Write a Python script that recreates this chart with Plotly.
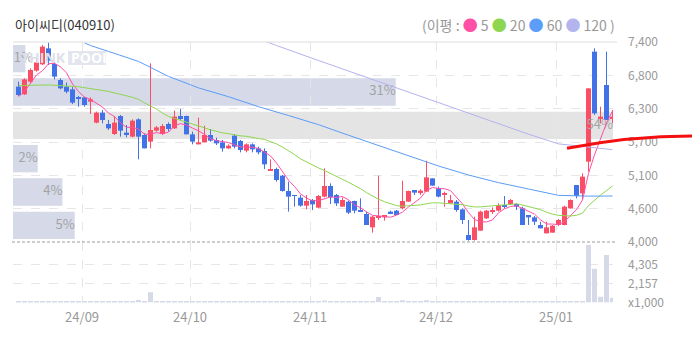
import plotly.graph_objects as go
import pandas as pd

# ---------------- data ----------------
TITLE = "아이씨디(040910)"
HOLIDAYS = ["2024-09-16", "2024-09-17", "2024-09-18", "2024-10-01", "2024-10-03",
            "2024-10-09", "2024-12-25", "2024-12-31", "2025-01-01"]
trade_days = [d for d in pd.bdate_range("2024-08-16", "2025-01-15")
              if d.strftime("%Y-%m-%d") not in HOLIDAYS]

OPEN = [6641, 6510, 6726, 6913, 7020, 7292, 7026, 6754, 6641, 6595,
        6459, 6459, 6386, 6029, 6199, 6006, 5836, 6142, 5859, 5791,
        6085, 5819, 5706, 5893, 5836, 6006, 5932, 6142, 6142, 5830,
        5660, 5694, 5819, 5734, 5694, 5592, 5808, 5717, 5553, 5660,
        5592, 5547, 5213, 5241, 5128, 4867, 4799, 4754, 4618, 4714,
        4584, 4771, 4952, 4799, 4601, 4686, 4697, 4533, 4476, 4249,
        4419, 4419, 4516, 4533, 4572, 4686, 4884, 4844, 4856, 5082,
        4912, 4799, 4657, 4686, 4555, 4119, 4034, 4193, 4402, 4516,
        4533, 4629, 4646, 4646, 4572, 4459, 4419, 4289, 4147, 4159,
        4289, 4289, 4572, 4969, 4827, 5366, 7236, 6102, 6669, 6102]
HIGH = [6726, 6782, 6952, 7122, 7349, 7389, 7066, 6782, 6709, 6641,
        6482, 6470, 6459, 6216, 6244, 6074, 6142, 6159, 5989, 6085,
        6102, 5847, 7037, 5972, 6006, 6034, 6233, 6261, 6148, 5876,
        6114, 5978, 5921, 5774, 5734, 5660, 5830, 5734, 5677, 5677,
        5621, 5592, 5405, 5264, 5139, 5026, 4799, 4799, 4799, 4731,
        4799, 5252, 4997, 4816, 4759, 4703, 4703, 4742, 4516, 4442,
        5128, 4459, 4533, 4544, 5043, 4873, 4884, 4895, 5383, 5082,
        4941, 4856, 4799, 4714, 4572, 4374, 4430, 4533, 4544, 4589,
        4657, 4782, 4731, 4657, 4601, 4459, 4442, 4345, 4345, 4289,
        4391, 4618, 4725, 4969, 5167, 6612, 7292, 6301, 7236, 6244]
LOW = [6482, 6499, 6697, 6896, 7009, 7009, 6765, 6595, 6527, 6346,
       6301, 6301, 6176, 6017, 6017, 5904, 5819, 5791, 5779, 5779,
       5405, 5592, 5592, 5876, 5819, 5876, 5921, 6074, 5830, 5660,
       5660, 5689, 5706, 5649, 5536, 5581, 5592, 5524, 5524, 5524,
       5490, 5241, 5213, 5026, 4856, 4516, 4601, 4601, 4555, 4544,
       4572, 4759, 4646, 4612, 4601, 4476, 4487, 4516, 4289, 4159,
       4374, 4363, 4476, 4459, 4555, 4686, 4799, 4799, 4856, 4958,
       4759, 4601, 4657, 4516, 4306, 4023, 4023, 4193, 4391, 4476,
       4516, 4572, 4629, 4544, 4289, 4289, 4289, 4232, 4147, 4159,
       4272, 4283, 4566, 4742, 4725, 5196, 6159, 6017, 6074, 6017]
CLOSE = [6499, 6765, 6924, 7054, 7321, 7083, 6811, 6612, 6556, 6369,
         6442, 6329, 6425, 6199, 6074, 5932, 6029, 5893, 5819, 6063,
         5791, 5592, 5904, 5949, 5972, 5921, 6131, 6091, 5830, 5706,
         5694, 5819, 5723, 5677, 5592, 5638, 5621, 5564, 5660, 5575,
         5524, 5320, 5241, 5054, 4867, 4771, 4782, 4618, 4697, 4640,
         4782, 4952, 4759, 4657, 4714, 4499, 4533, 4516, 4289, 4431,
         4442, 4459, 4487, 4459, 4697, 4867, 4839, 4873, 5099, 4958,
         4771, 4827, 4714, 4544, 4374, 4034, 4249, 4516, 4533, 4544,
         4629, 4601, 4714, 4601, 4289, 4419, 4345, 4232, 4249, 4278,
         4374, 4601, 4714, 4782, 5111, 6612, 6187, 6131, 6074, 6131]
VOLUME = [110, 120, 130, 110, 140, 120, 100, 110, 100, 120,
          100, 110, 120, 110, 100, 110, 100, 110, 100, 120,
          280, 130, 1160, 120, 110, 100, 120, 110, 100, 110,
          100, 110, 100, 100, 110, 100, 110, 100, 100, 110,
          100, 120, 110, 100, 120, 130, 110, 100, 110, 100,
          110, 240, 120, 110, 100, 110, 100, 110, 120, 130,
          620, 130, 110, 100, 260, 120, 110, 100, 260, 120,
          110, 100, 100, 110, 120, 130, 120, 110, 100, 100,
          100, 110, 100, 100, 110, 100, 100, 110, 100, 100,
          110, 120, 110, 120, 150, 6520, 3840, 660, 5390, 545]

MA5_HEAD = [6471, 6560, 6697, 6839]
MA20_HEAD_IDX = [0, 5, 10, 15]
MA20_HEAD = [6660, 6670, 6640, 6560]
MA60_IDX = [11, 12, 15, 20, 25, 30, 35, 40, 45, 50, 55, 60, 65, 70, 75, 80, 85, 90, 95, 99]
MA60 = [7385, 7340, 7240, 7070, 6815, 6620, 6470, 6300, 6150, 5995, 5815, 5637,
        5462, 5292, 5139, 5009, 4901, 4793, 4780, 4782]
MA120_IDX = [41, 43, 50, 55, 60, 65, 70, 75, 80, 85, 90, 95, 99]
MA120 = [7420, 7340, 7085, 6905, 6725, 6545, 6365, 6198, 6017, 5833, 5668, 5612, 5570]

PRICE_TICKS = [4000, 4566.67, 5133.33, 5700, 6266.67, 6833.33, 7400]
PRICE_TICK_TEXT = ["4,000", "4,600", "5,100", "5,700", "6,300", "6,800", "7,400"]
VOL_TICKS = [0, 2157, 4305]
VOL_TICK_TEXT = ["x1,000", "2,157", "4,305"]
BAND_PCT = [1, 31, 54, 2, 4, 5]          # price zones from top to bottom
MA_LABELS = ["5", "20", "60", "120"]

# ---------------- style / layout constants ----------------
W, H = 692, 338
PX_L, PX_R = 13, 613
PY_TOP, PY_SEP, PY_VBOT = 42, 242, 302.5
RED, BLUE = "#fa4d66", "#4272e8"
MA_COLORS = ["#ff4fa6", "#8fd650", "#5b9df7", "#b3b3ee"]
BAND_COLOR, BAND_MAX_COLOR = "#d5d9e8", "#e4e4e4"
GRID = "#e6e6e6"
TXT = "#999999"
FONT = "Noto Sans CJK KR, Noto Sans, sans-serif"


def px_x(v):
    return v / W


def px_y(v):
    return 1 - v / H


n = len(CLOSE)
days = trade_days[:n]
idx = list(range(n))
X_RANGE = [-0.9167, n - 0.9167]

# moving averages
close_s = pd.Series(CLOSE, dtype=float)
ma5 = close_s.rolling(5).mean().tolist()
ma5[:len(MA5_HEAD)] = MA5_HEAD
ma20 = close_s.rolling(20).mean().tolist()
ma20_x = MA20_HEAD_IDX + idx[19:]
ma20_y = MA20_HEAD + ma20[19:]

# month ticks
month_start = [i for i in range(1, n) if days[i].month != days[i - 1].month]
x_tickvals = [i - 0.4 for i in month_start]
x_ticktext = [days[i].strftime("%y/%m") for i in month_start]

fig = go.Figure()

# candle bodies
up = [c >= o for o, c in zip(OPEN, CLOSE)]
fig.add_trace(go.Bar(
    x=idx, y=[max(abs(c - o), 14) for o, c in zip(OPEN, CLOSE)],
    base=[min(o, c) for o, c in zip(OPEN, CLOSE)],
    marker=dict(color=[RED if u else BLUE for u in up], line=dict(width=0)),
    width=5 / 6, xaxis="x", yaxis="y", hoverinfo="skip", showlegend=False))

# wicks
for color, flag in ((RED, True), (BLUE, False)):
    wx, wy = [], []
    for i in idx:
        if up[i] == flag:
            wx += [i, i, None]
            wy += [LOW[i], HIGH[i], None]
    fig.add_trace(go.Scatter(x=wx, y=wy, mode="lines", line=dict(color=color, width=1),
                             xaxis="x", yaxis="y", hoverinfo="skip", showlegend=False))

# band labels
zone_edges = sorted(PRICE_TICKS, reverse=True)
band_scale = 48.6
lbl_x, lbl_y, lbl_t = [], [], []
inset = 3 * (PRICE_TICKS[-1] - PRICE_TICKS[0]) / (PY_SEP - PY_TOP)
max_pct = max(BAND_PCT)
for k, pct in enumerate(BAND_PCT):
    top, bot = zone_edges[k], zone_edges[k + 1]
    frac = min(pct / band_scale, 1.0)
    fig.add_shape(type="rect", xref="x domain", yref="y", x0=0, x1=frac,
                  y0=bot + inset, y1=top - inset, layer="below", line=dict(width=0),
                  fillcolor=BAND_MAX_COLOR if pct == max_pct else BAND_COLOR)
    lbl_x.append(X_RANGE[0] + max(frac, 20 / 600) * (X_RANGE[1] - X_RANGE[0]))
    lbl_y.append((top + bot) / 2)
    lbl_t.append(f"{pct}%")
fig.add_trace(go.Scatter(x=lbl_x, y=lbl_y, text=lbl_t, mode="text",
                         textposition="middle left",
                         textfont=dict(size=13, color="#a3a3a3", family=FONT),
                         xaxis="x", yaxis="y", hoverinfo="skip", showlegend=False))

# moving average lines
ma_sets = [(idx, ma5), (ma20_x, ma20_y), (MA60_IDX, MA60), (MA120_IDX, MA120)]
for (mx, my), col in zip(ma_sets, MA_COLORS):
    fig.add_trace(go.Scatter(x=mx, y=my, mode="lines", line=dict(color=col, width=1),
                             xaxis="x", yaxis="y", hoverinfo="skip", showlegend=False))

# volume
fig.add_trace(go.Bar(x=idx, y=VOLUME, width=5 / 6, marker=dict(color=BAND_COLOR, line=dict(width=0)),
                     xaxis="x2", yaxis="y2", hoverinfo="skip", showlegend=False))

fig.update_layout(
    width=W, height=H, autosize=False,
    margin=dict(l=0, r=0, t=0, b=0, pad=0, autoexpand=False),
    paper_bgcolor="white", plot_bgcolor="white", barmode="overlay", showlegend=False,
    font=dict(family=FONT, color=TXT),
    xaxis=dict(domain=[px_x(PX_L), px_x(PX_R)], range=X_RANGE, tickvals=x_tickvals,
               showticklabels=False, showgrid=True, gridcolor=GRID, griddash="dash",
               zeroline=False, showline=False, anchor="y", automargin=False),
    xaxis2=dict(domain=[px_x(PX_L), px_x(PX_R)], range=X_RANGE, tickvals=x_tickvals,
                ticktext=x_ticktext, showgrid=True, gridcolor=GRID, griddash="dash",
                zeroline=False, showline=False, anchor="y2", ticks="", automargin=False,
                ticklabelstandoff=5, tickfont=dict(size=13, color=TXT, family=FONT)),
    yaxis=dict(domain=[px_y(PY_SEP), px_y(PY_TOP)], range=[PRICE_TICKS[0], PRICE_TICKS[-1]],
               side="right", anchor="x", tickvals=PRICE_TICKS, ticktext=PRICE_TICK_TEXT,
               showgrid=True, gridcolor=GRID, griddash="dash", zeroline=False, ticks="",
               automargin=False,
               ticklabelstandoff=14, tickfont=dict(size=12, color=TXT, family=FONT)),
    yaxis2=dict(domain=[px_y(PY_VBOT), px_y(PY_SEP)], range=[0, 6867],
                side="right", anchor="x2", tickvals=VOL_TICKS, ticktext=VOL_TICK_TEXT,
                showgrid=True, gridcolor=GRID, griddash="dash", zeroline=False, ticks="",
                automargin=False,
                ticklabelstandoff=14, tickfont=dict(size=12, color=TXT, family=FONT)),
)

# frame lines
fig.add_shape(type="line", xref="paper", yref="paper", x0=px_x(PX_L), x1=px_x(617),
              y0=px_y(PY_TOP), y1=px_y(PY_TOP), line=dict(color="#dedede", width=1))
fig.add_shape(type="line", xref="paper", yref="paper", x0=px_x(PX_L - 1), x1=px_x(616),
              y0=px_y(PY_SEP), y1=px_y(PY_SEP), line=dict(color="#9c9c9c", width=1, dash="3px,2px"))

# red indicator arc
fig.add_shape(type="path", xref="paper", yref="paper",
              path=f"M {px_x(567)},{px_y(148.3)} Q {px_x(630)},{px_y(136)} {px_x(692)},{px_y(136)}",
              line=dict(color="#f41010", width=3))

# watermark
fig.add_shape(type="rect", xref="paper", yref="paper", x0=px_x(68), x1=px_x(106),
              y0=px_y(65), y1=px_y(51), fillcolor="#e3e6ee", line=dict(width=0), layer="below")
fig.add_annotation(xref="paper", yref="paper", x=px_x(68), y=px_y(58), xanchor="right",
                   yanchor="middle", showarrow=False, text="<b>THINK</b>",
                   font=dict(size=14, color="#dde0e8", family="Open Sans, sans-serif"))
fig.add_annotation(xref="paper", yref="paper", x=px_x(69), y=px_y(58), xanchor="left",
                   yanchor="middle", showarrow=False, text="<b>POOL</b>",
                   font=dict(size=14, color="#ffffff", family="Open Sans, sans-serif"))

# title
fig.add_annotation(xref="paper", yref="paper", x=px_x(13), y=px_y(24), xanchor="left",
                   yanchor="middle", showarrow=False, text=TITLE,
                   font=dict(size=13, color="#333333", family=FONT))

# MA legend
parts = ["(이평 :"]
for lab, col in zip(MA_LABELS, MA_COLORS):
    parts.append(f"<span style='color:{col};font-size:15px'>●</span> {lab}")
legend_text = " ".join(parts) + " )"
fig.add_annotation(xref="paper", yref="paper", x=px_x(617), y=px_y(24), xanchor="right",
                   yanchor="middle", showarrow=False, text=legend_text,
                   font=dict(size=14, color=TXT, family=FONT))

fig.write_html("out.html", config={"displayModeBar": False},
               post_script="document.body.style.margin='0';document.body.style.overflow='hidden';")
